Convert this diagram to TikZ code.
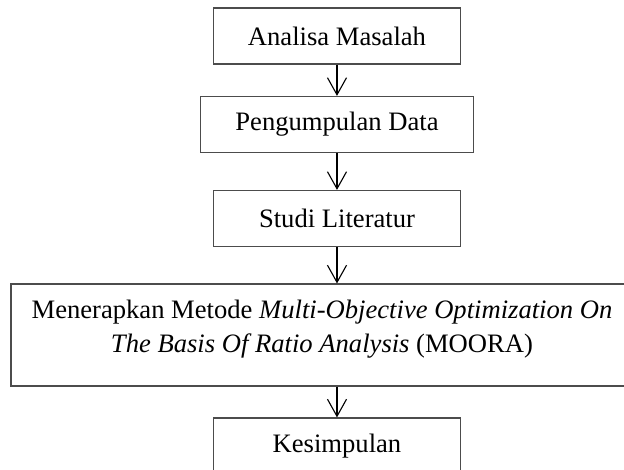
\documentclass[tikz,border=0pt]{standalone}
\usepackage{fontspec}
\setmainfont{Liberation Serif}
\usetikzlibrary{arrows.meta}

\begin{document}
\begin{tikzpicture}[x=0.451pt, y=-0.451pt,
    every node/.style={draw=black!70, line width=0.5pt, inner sep=0pt, align=center,
        minimum height=25.3pt, font=\fontsize{12}{15.3}\selectfont},
    flow/.style={draw=black, line width=0.5pt, -{Straight Barb[length=7.7pt, width=8.6pt]}}]
    \path[use as bounding box] (0,0) rectangle (624,470);
    \node[minimum width=111pt] (A) at (337,36)  {Analisa Masalah};
    \node[minimum width=123pt] (B) at (337,124.5) {Pengumpulan Data};
    \node[minimum width=111pt] (C) at (337,218.5) {Studi Literatur};
    \node[minimum width=280.5pt, minimum height=46pt] (D) at (322,335)
        {Menerapkan Metode \textit{Multi-Objective Optimization On}\\
         \textit{The Basis Of Ratio Analysis} (MOORA)\rule[-7.5pt]{0pt}{7.5pt}};
    \node[minimum width=111pt] (E) at (337,446) {Kesimpulan};

    % Arrows between the steps
    \draw[flow] (A) -- (B);
    \draw[flow] (B) -- (C);
    \draw[flow] (C) -- (C |- D.north);
    \draw[flow] (E |- D.south) -- (E);

\end{tikzpicture}
\end{document}
